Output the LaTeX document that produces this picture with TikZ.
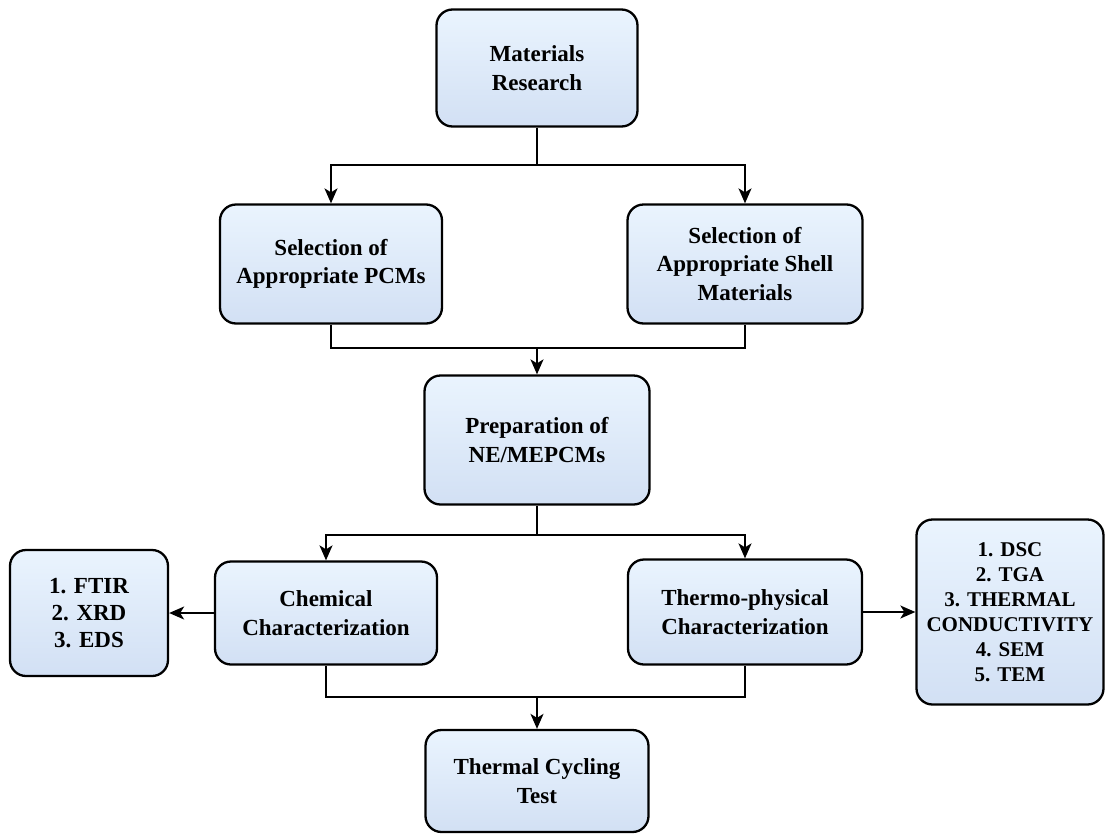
\documentclass[tikz,border=0pt]{standalone}
\usepackage{fontspec}
\setmainfont{Liberation Serif}
\usepackage{tikz}
\usetikzlibrary{arrows.meta,positioning}

\definecolor{boxtop}{RGB}{234,244,254}
\definecolor{boxbottom}{RGB}{210,224,244}

\tikzset{
  stage/.style={draw=black, line width=2.3pt, rounded corners=16pt,
    top color=boxtop, bottom color=boxbottom,
    align=center, inner sep=3pt,
    font=\fontsize{23}{28.5}\selectfont\bfseries},
  listbox/.style={stage, font=\fontsize{21}{25}\selectfont\bfseries},
  link/.style={line width=1.7pt},
  arr/.style={link, -{Stealth[length=15pt,width=13pt,inset=4pt]}}
}

\begin{document}
\begin{tikzpicture}[x=1pt,y=1pt]
  \useasboundingbox (0,0) rectangle (1112,-836);

  % boxes
  \node[stage, minimum width=201pt, minimum height=117pt] (research) at (537,-68) {Materials\\Research};
  \node[stage, minimum width=222pt, minimum height=119pt] (pcm) at (331,-264) {Selection of\\Appropriate PCMs};
  \node[stage, minimum width=235pt, minimum height=119pt] (shell) at (745,-264) {Selection of\\Appropriate Shell\\Materials};
  \node[stage, minimum width=225pt, minimum height=129pt] (prep) at (537,-440) {Preparation of\\NE/MEPCMs};
  \node[stage, minimum width=222pt, minimum height=103pt] (chem) at (326,-613) {Chemical\\Characterization};
  \node[stage, minimum width=234pt, minimum height=105pt] (thermo) at (745,-612) {Thermo-physical\\Characterization};
  \node[stage, font=\fontsize{23}{27}\selectfont\bfseries, minimum width=158pt, minimum height=126pt] (chemlist) at (89,-613) {1. FTIR\\2. XRD\\3. EDS};
  \node[listbox, minimum width=187pt, minimum height=185pt, inner sep=1pt] (thermolist) at (1010,-612) {1. DSC\\2. TGA\\3. THERMAL\\CONDUCTIVITY\\4. SEM\\5. TEM};
  \node[stage, minimum width=223pt, minimum height=102pt] (cycling) at (537,-781) {Thermal Cycling\\Test};

  % branch and merge points
  \coordinate (split1) at (537,-165);
  \coordinate (merge1) at (537,-348);
  \coordinate (split2) at (537,-535);
  \coordinate (merge2) at (537,-697);

  % connectors
  \draw[link] (research.south) -- (split1);
  \draw[arr] (split1) -| (pcm.north);
  \draw[arr] (split1) -| (shell.north);
  \draw[link] (pcm.south) |- (merge1) -| (shell.south);
  \draw[arr] (merge1) -- (prep.north);
  \draw[link] (prep.south) -- (split2);
  \draw[arr] (split2) -| (chem.north);
  \draw[arr] (split2) -| (thermo.north);
  \draw[arr] (chem.west) -- (chemlist.east);
  \draw[arr] (thermo.east) -- (thermolist.west);
  \draw[link] (chem.south) |- (merge2) -| (thermo.south);
  \draw[arr] (merge2) -- (cycling.north);
\end{tikzpicture}
\end{document}
